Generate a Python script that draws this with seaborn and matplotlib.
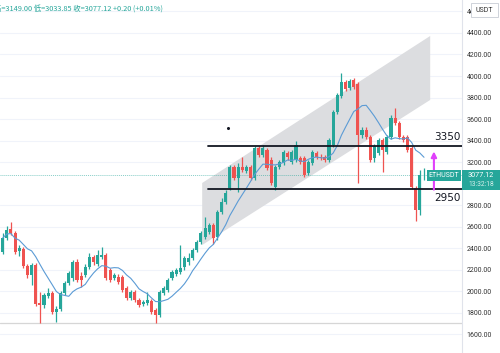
import numpy as np
import pandas as pd
import matplotlib
matplotlib.use("Agg")
import matplotlib.pyplot as plt
from matplotlib.patches import Polygon, Rectangle
from matplotlib.transforms import Bbox
import seaborn as sns

# ---------------- data (ETH/USDT daily candles) ----------------
opens = [2366, 2496, 2580, 2543, 2376, 2394, 2236, 2153, 2245, 1893,
         1874, 1958, 1986, 1809, 1837, 1986, 2078, 2125, 2273, 2143,
         2153, 2227, 2320, 2255, 2320, 2338, 2199, 2125, 2134, 2134,
         2032, 1939, 1995, 1921, 1883, 1893, 1911, 1828, 1781, 1986,
         2013, 2125, 2162, 2181, 2227, 2273, 2311, 2385, 2459, 2506,
         2552, 2617, 2506, 2738, 2831, 2961, 3156, 3053, 3156, 3118,
         3156, 3053, 3332, 3267, 3314, 3221, 2970, 3156, 3193, 3286,
         3202, 3221, 3239, 3239, 3100, 3193, 3286, 3248, 3248, 3221,
         3360, 3666, 3815, 3945, 3889, 3964, 3926, 3453, 3499, 3434,
         3239, 3286, 3406, 3295, 3434, 3611, 3564, 3434, 3434, 3332,
         2961, 2756, 3076.92]
closes = [2496, 2571, 2543, 2366, 2403, 2236, 2153, 2245, 1883, 1874,
          1967, 1986, 1809, 1837, 1986, 2078, 2171, 2273, 2106, 2106,
          2227, 2320, 2273, 2338, 2338, 2125, 2106, 2153, 2088, 2013,
          1939, 1995, 1921, 1874, 1902, 1921, 1809, 1781, 1995, 2032,
          2106, 2181, 2199, 2218, 2311, 2311, 2385, 2459, 2543, 2589,
          2617, 2496, 2738, 2831, 2914, 3156, 3053, 3156, 3128, 3156,
          3053, 3332, 3267, 3332, 3146, 3007, 3156, 3202, 3295, 3248,
          3295, 3360, 3202, 3081, 3202, 3295, 3248, 3239, 3221, 3406,
          3666, 3824, 3945, 3880, 3954, 3899, 3453, 3499, 3434, 3221,
          3351, 3406, 3314, 3434, 3611, 3564, 3434, 3406, 3314, 2970,
          2756, 3076.92, 3077.12]
highs = [2543, 2608, 2645, 2561, 2431, 2413, 2255, 2264, 2264, 1995,
         1986, 2032, 2004, 1865, 2004, 2097, 2190, 2292, 2301, 2181,
         2255, 2357, 2338, 2385, 2413, 2357, 2218, 2171, 2162, 2153,
         2051, 2013, 2013, 1939, 1921, 1995, 1930, 1846, 2013, 2051,
         2125, 2199, 2218, 2431, 2329, 2357, 2403, 2478, 2561, 2691,
         2636, 2636, 2756, 2868, 2942, 3174, 3174, 3193, 3248, 3174,
         3174, 3351, 3351, 3360, 3332, 3248, 3174, 3221, 3314, 3304,
         3314, 3397, 3258, 3258, 3221, 3314, 3304, 3276, 3267, 3425,
         3685, 3843, 4028, 3964, 3973, 3982, 3945, 3527, 3527, 3453,
         3370, 3425, 3425, 3453, 3638, 3703, 3583, 3453, 3453, 3351,
         2979, 3128, 3149.00]
lows = [2348, 2478, 2524, 2348, 2329, 2218, 2125, 2060, 1865, 1707,
        1846, 1939, 1791, 1716, 1819, 1967, 2060, 2097, 2088, 2041,
        2134, 2208, 2245, 2236, 2301, 2106, 2088, 2106, 2069, 1995,
        1921, 1921, 1902, 1856, 1865, 1874, 1791, 1707, 1763, 1967,
        1995, 2106, 2143, 2162, 2199, 2245, 2292, 2366, 2441, 2487,
        2533, 2441, 2478, 2719, 2812, 2942, 3035, 2923, 3109, 3100,
        3035, 3035, 3248, 3248, 3128, 2988, 2942, 3137, 3174, 3221,
        3183, 3202, 3183, 3063, 3081, 3174, 3230, 3221, 3202, 3202,
        3341, 3648, 3796, 3861, 3871, 3880, 3007, 3425, 3416, 3202,
        3202, 3267, 3109, 3276, 3416, 3546, 3416, 3388, 3295, 2951,
        2654, 2710, 3033.85]

price_ticks = [1600, 1800, 2000, 2200, 2400, 2600, 2800, 3200, 3400, 3600,
               3800, 4000, 4200, 4400, 4600]
levels = [3350, 2950]
level_labels = ["3350", "2950"]
last_price = 3077.12
symbol = "ETHUSDT"
countdown = "13:32:18"
header = "高=3149.00 低=3033.85 收=3077.12 +0.20 (+0.01%)"
# parallel channel corners (bar index, price)
channel_x = [48.3, 103.5, 103.5, 48.3]
channel_y = [3007, 4372, 3778, 2431]

# ---------------- styling ----------------
sns.set_theme(style="white")
plt.rcParams["font.family"] = ["Roboto", "DejaVu Sans"]

UP = "#26a69a"
DOWN = "#ef5350"

df = pd.DataFrame({"open": opens, "high": highs, "low": lows, "close": closes})
df["idx"] = np.arange(len(df))
df["ma"] = df["close"].rolling(9, min_periods=1).mean()
df["color"] = np.where(df["close"] >= df["open"], UP, DOWN)

W, H = 500, 353
fig = plt.figure(figsize=(W / 100, H / 100), dpi=100)
ax = fig.add_axes([0, 0, 462 / W, 1])
ax.set_facecolor("white")

# horizontal grid
for p in price_ticks:
    ax.axhline(p, color="#f0f3fa", lw=0.8, zorder=0)
ax.axhline(1702, color="#d6d6d6", lw=0.9, zorder=0.5)

# channel drawing
ax.add_patch(Polygon(list(zip(channel_x, channel_y)), closed=True,
                     facecolor="#dcdde0", edgecolor="none", zorder=1))

# current price line
ax.axhline(last_price, color=UP, lw=0.7, ls=(0, (1, 1)), alpha=0.55, zorder=1.5)

# candles: wicks and bodies
ax.vlines(df["idx"], df["low"], df["high"], colors=df["color"], lw=0.9, zorder=2)
body_lo = np.minimum(df["open"], df["close"])
body_h = np.maximum(np.abs(df["close"] - df["open"]), 6)
ax.bar(df["idx"], body_h, bottom=body_lo, width=0.75, color=df["color"],
       linewidth=0, zorder=3)

# moving average
sns.lineplot(data=df, x="idx", y="ma", ax=ax, color="#5b9bd5", lw=0.8,
             zorder=4, legend=False)

# support / resistance lines
x_end = 111.2
for lv, lab, dy, va in zip(levels, level_labels, [35, -40], ["bottom", "top"]):
    ax.plot([49.7, x_end], [lv, lv], color="#131722", lw=1.3, zorder=5)
    ax.text(110.8, lv + dy, lab, ha="right", va=va, fontsize=7.5,
            color="#131722", family=["DejaVu Sans"], zorder=6)

# magenta arrow
ax.annotate("", xy=(104.4, 3300), xytext=(104.4, 2945),
            arrowprops=dict(arrowstyle="-|>", color="#e040fb", lw=1.5,
                            mutation_scale=8, shrinkA=0, shrinkB=0), zorder=6)

# small dot drawing
ax.plot([54.6], [3513], marker="o", ms=1.2, color="#131722", zorder=6)

ax.set_xlim(-0.65, x_end)
ax.set_ylim(1428, 4706)
ax.set_xlabel("")
ax.set_ylabel("")
ax.set_xticks([])
ax.yaxis.tick_right()
ax.set_yticks(price_ticks)
ax.set_yticklabels([f"{p:.2f}" for p in price_ticks])
ax.tick_params(axis="y", length=0, pad=3.5, labelsize=5, labelcolor="#333333")
for s in ["top", "left", "bottom"]:
    ax.spines[s].set_visible(False)
ax.spines["right"].set_color("#e0e3eb")
ax.spines["right"].set_linewidth(0.8)

# the top price label is hidden behind the currency box except its first digit
top_lab = ax.get_yticklabels()[-1]
top_lab.set_clip_box(Bbox.from_extents(462, 336, 470.5, 353))
top_lab.set_clip_on(True)


def px(x, y):
    return x / W, 1 - y / H


# ETHUSDT label box on the chart
x0, y0 = px(427, 181)
fig.patches.append(Rectangle((x0, y0), 34 / W, 11 / H, transform=fig.transFigure,
                             facecolor=UP, edgecolor="none", zorder=10))
fig.text(*px(444, 175.5), symbol, ha="center", va="center", color="white",
         fontsize=5, zorder=11)

# last price box on the axis
x0, y0 = px(462, 190)
fig.patches.append(Rectangle((x0, y0), 38 / W, 20 / H, transform=fig.transFigure,
                             facecolor=UP, edgecolor="none", zorder=10))
fig.text(*px(481, 175.5), f"{last_price:.2f}", ha="center", va="center",
         color="white", fontsize=5.2, zorder=11)
fig.text(*px(481, 185), countdown, ha="center", va="center",
         color="#d8f0ec", fontsize=4.8, zorder=11)

# USDT currency box at top right
x0, y0 = px(471, 17)
fig.patches.append(Rectangle((x0, y0), 27 / W, 14 / H, transform=fig.transFigure,
                             facecolor="white", edgecolor="#c8ccd4", lw=0.6, zorder=10))
fig.text(*px(484.5, 10), "USDT", ha="center", va="center", color="#333333",
         fontsize=5, zorder=11)

# OHLC header
fig.text(*px(-6, 9), header, ha="left", va="center", color=UP, fontsize=5.3,
         family=["Noto Sans CJK SC", "DejaVu Sans"], zorder=11)

fig.savefig("out.png", dpi=100, facecolor="white")
